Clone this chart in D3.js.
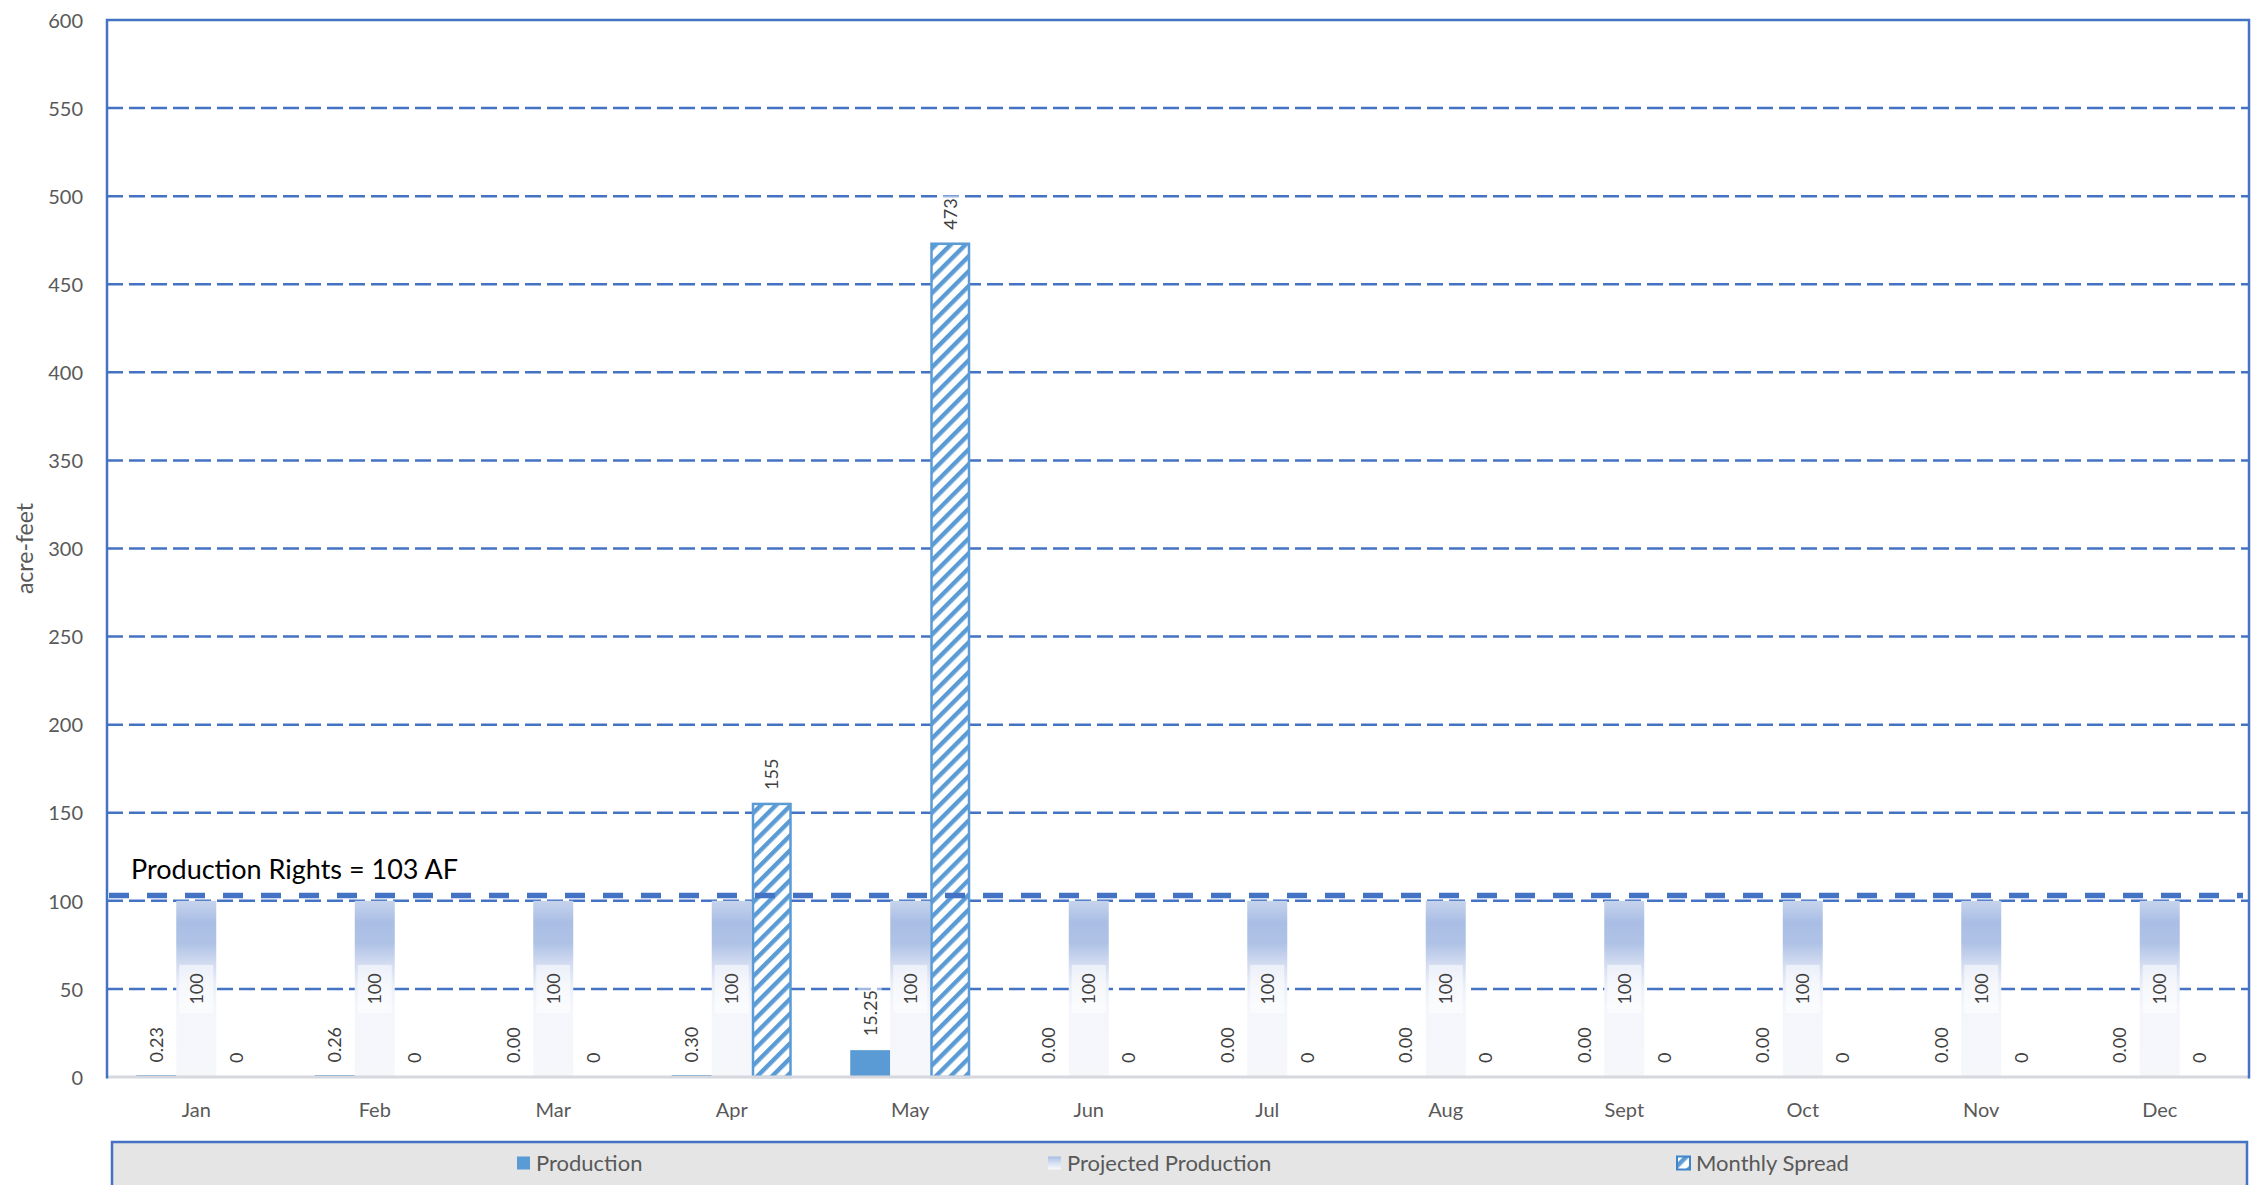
<!DOCTYPE html>
<html>
<head>
<meta charset="utf-8">
<script src="https://cdn.jsdelivr.net/npm/d3@7"></script>
<style>
  html, body { margin: 0; padding: 0; background: #ffffff; }
  svg { display: block; font-family: Lato, "Open Sans", sans-serif; }
</style>
</head>
<body>
<svg id="chart" width="2266" height="1185"></svg>
<script>
// Monthly production figures (acre-feet)
const months = ["Jan", "Feb", "Mar", "Apr", "May", "Jun", "Jul", "Aug", "Sept", "Oct", "Nov", "Dec"];
const production = [0.23, 0.26, 0.00, 0.30, 15.25, 0.00, 0.00, 0.00, 0.00, 0.00, 0.00, 0.00];
const projectedProduction = [100, 100, 100, 100, 100, 100, 100, 100, 100, 100, 100, 100];
const monthlySpread = [0, 0, 0, 155, 473, 0, 0, 0, 0, 0, 0, 0];
const yTicks = [0, 50, 100, 150, 200, 250, 300, 350, 400, 450, 500, 550, 600];
const productionRights = 103;
const seriesNames = ["Production", "Projected Production", "Monthly Spread"];

const W = 2266, H = 1185;
const plot = { left: 107, right: 2249, top: 20, bottom: 1077 };
const blue = "#4472C4", barBlue = "#5B9BD5", textGrey = "#595959", labelGrey = "#404040";

const svg = d3.select("#chart");
svg.append("rect").attr("width", W).attr("height", H).attr("fill", "#ffffff");

const defs = svg.append("defs");
// Diagonal hatch for the monthly spread bars
const hatch = defs.append("pattern")
  .attr("id", "hatch").attr("patternUnits", "userSpaceOnUse")
  .attr("width", 10.5).attr("height", 10.5)
  .attr("patternTransform", "rotate(45)");
hatch.append("rect").attr("width", 10.5).attr("height", 10.5).attr("fill", "#ffffff");
hatch.append("rect").attr("width", 4.4).attr("height", 10.5).attr("fill", barBlue);

// Vertical shading for projected production bars
const grad = defs.append("linearGradient").attr("id", "projGrad")
  .attr("x1", 0).attr("y1", 0).attr("x2", 0).attr("y2", 1);
[[0, "#c6d3ec"], [0.12, "#aabee5"], [0.24, "#afc2e6"], [0.36, "#d3dcf0"], [0.48, "#ebeff8"], [0.6, "#f4f6fb"], [1, "#f6f7fb"]]
  .forEach(([o, c]) => grad.append("stop").attr("offset", o).attr("stop-color", c));
const legGrad = defs.append("linearGradient").attr("id", "legGrad")
  .attr("x1", 0).attr("y1", 0).attr("x2", 0).attr("y2", 1);
[[0, "#a9bde4"], [0.5, "#d6dff2"], [1, "#f8f9fd"]]
  .forEach(([o, c]) => legGrad.append("stop").attr("offset", o).attr("stop-color", c));

// Scales
const x0 = d3.scaleBand().domain(months).range([plot.left, plot.right]).padding(0);
const x1 = d3.scaleBand().domain(seriesNames).range([0, x0.bandwidth()]).paddingInner(0).paddingOuter(0.731);
const y = d3.scaleLinear().domain([0, 600]).range([plot.bottom, plot.top]);

// Dashed gridlines
svg.append("g").selectAll("line")
  .data(yTicks.filter(t => t > 0 && t < 600))
  .join("line")
  .attr("x1", plot.left).attr("x2", plot.right)
  .attr("y1", d => y(d)).attr("y2", d => y(d))
  .attr("stroke", blue).attr("stroke-width", 2.5)
  .attr("stroke-dasharray", "16 6");

// Y axis tick labels
const yAxis = d3.axisLeft(y).tickValues(yTicks).tickSize(0).tickPadding(24);
const yg = svg.append("g").attr("transform", `translate(${plot.left},0)`).call(yAxis);
yg.select(".domain").remove();
yg.selectAll("text").attr("font-size", 20).attr("fill", textGrey)
  .attr("font-family", "Lato, sans-serif").attr("dy", "0.36em");

// X axis month labels
const xAxis = d3.axisBottom(x0).tickSize(0).tickPadding(26);
const xg = svg.append("g").attr("transform", `translate(0,${plot.bottom})`).call(xAxis);
xg.select(".domain").remove();
xg.selectAll("text").attr("font-size", 20).attr("fill", textGrey)
  .attr("font-family", "Lato, sans-serif");

// Y axis title
svg.append("text")
  .attr("transform", `translate(33,${(plot.top + plot.bottom) / 2}) rotate(-90)`)
  .attr("text-anchor", "middle").attr("font-size", 23).attr("fill", textGrey)
  .text("acre-feet");

const groups = svg.append("g").selectAll("g")
  .data(months.map((m, i) => ({ m, i })))
  .join("g").attr("transform", d => `translate(${x0(d.m)},0)`);

// Production bars
const bw = x1.bandwidth();
groups.append("rect")
  .attr("x", x1("Production")).attr("width", bw)
  .attr("y", d => y(production[d.i]))
  .attr("height", d => Math.max(y(0) - y(production[d.i]), production[d.i] > 0 ? 1.5 : 0))
  .attr("fill", barBlue)
  .attr("transform", d => production[d.i] > 0 && y(0) - y(production[d.i]) < 1.5 ? "translate(0,-1.5)" : null);

// Projected production bars
groups.append("rect")
  .attr("x", x1("Projected Production")).attr("width", bw)
  .attr("y", d => y(projectedProduction[d.i]))
  .attr("height", d => y(0) - y(projectedProduction[d.i]))
  .attr("fill", "url(#projGrad)");

// Monthly spread bars
groups.filter(d => monthlySpread[d.i] > 0).append("rect")
  .attr("x", x1("Monthly Spread") + 1.25).attr("width", bw - 2.5)
  .attr("y", d => y(monthlySpread[d.i]))
  .attr("height", d => y(0) - y(monthlySpread[d.i]))
  .attr("fill", "url(#hatch)")
  .attr("stroke", barBlue).attr("stroke-width", 2.5);

// Plot frame: grey baseline, blue left/top/right border
svg.append("line").attr("x1", plot.left).attr("x2", plot.right)
  .attr("y1", plot.bottom).attr("y2", plot.bottom)
  .attr("stroke", "#d6d8dd").attr("stroke-width", 3);
svg.append("path")
  .attr("d", `M${plot.left},${plot.bottom + 1.5}V${plot.top}H${plot.right}V${plot.bottom + 1.5}`)
  .attr("fill", "none").attr("stroke", blue).attr("stroke-width", 2.5);

// Production rights threshold line
svg.append("line").attr("x1", plot.left + 2).attr("x2", plot.right - 6)
  .attr("y1", y(productionRights)).attr("y2", y(productionRights))
  .attr("stroke", blue).attr("stroke-width", 5.5).attr("stroke-dasharray", "20 18");
svg.append("text")
  .attr("x", 131).attr("y", y(productionRights) - 17)
  .attr("font-size", 27).attr("fill", "#000000")
  .text(`Production Rights = ${productionRights} AF`);

// Value labels placed above the bar end (rotated)
const fmt2 = d3.format(".2f"), fmt0 = d3.format("d");
function outsideLabel(sel, series, name, fmt) {
  const g = sel.append("g")
    .attr("transform", d => `translate(${x1(name) + bw / 2},${y(series[d.i]) - 14}) rotate(-90)`);
  g.append("text")
    .attr("x", 0).attr("dy", "0.36em").attr("text-anchor", "start")
    .attr("font-size", 18).attr("fill", labelGrey)
    .text(d => fmt(series[d.i]));
  g.each(function () {
    const b = d3.select(this).select("text").node().getBBox();
    d3.select(this).insert("rect", "text")
      .attr("x", b.x - 3).attr("y", b.y - 1).attr("width", b.width + 6).attr("height", b.height + 2)
      .attr("fill", "#ffffff").attr("opacity", 0.5);
  });
}
outsideLabel(groups, production, "Production", fmt2);
outsideLabel(groups, monthlySpread, "Monthly Spread", fmt0);

// Projected labels centred inside the bar on a pale box
const pg = groups.append("g")
  .attr("transform", d => `translate(${x1("Projected Production") + bw / 2},${y(projectedProduction[d.i] / 2)})`);
pg.append("rect").attr("x", -bw / 2 + 3).attr("width", bw - 6)
  .attr("y", -24).attr("height", 48)
  .attr("fill", "#ffffff").attr("opacity", 0.55);
pg.append("text").attr("transform", "rotate(-90)")
  .attr("text-anchor", "middle").attr("dy", "0.36em")
  .attr("font-size", 18).attr("fill", labelGrey)
  .text(d => fmt0(projectedProduction[d.i]));

// Legend
const leg = svg.append("g");
leg.append("rect").attr("x", 112).attr("y", 1142).attr("width", 2247 - 112).attr("height", 70)
  .attr("fill", "#e5e5e5").attr("stroke", blue).attr("stroke-width", 2.5);
const legendItems = [
  { name: seriesNames[0], x: 517, fill: barBlue },
  { name: seriesNames[1], x: 1048, fill: "url(#legGrad)" },
  { name: seriesNames[2], x: 1677, fill: "url(#hatch)" }
];
const li = leg.selectAll("g.item").data(legendItems).join("g").attr("class", "item")
  .attr("transform", d => `translate(${d.x},1163)`);
li.append("rect").attr("x", 0).attr("y", -6.5).attr("width", 13).attr("height", 13)
  .attr("fill", d => d.fill)
  .attr("stroke", d => d.name === "Monthly Spread" ? "#3f86c9" : "none")
  .attr("stroke-width", 2);
li.append("text").attr("x", 19).attr("dy", "0.36em")
  .attr("font-size", 22).attr("fill", textGrey)
  .text(d => d.name);
</script>
</body>
</html>
